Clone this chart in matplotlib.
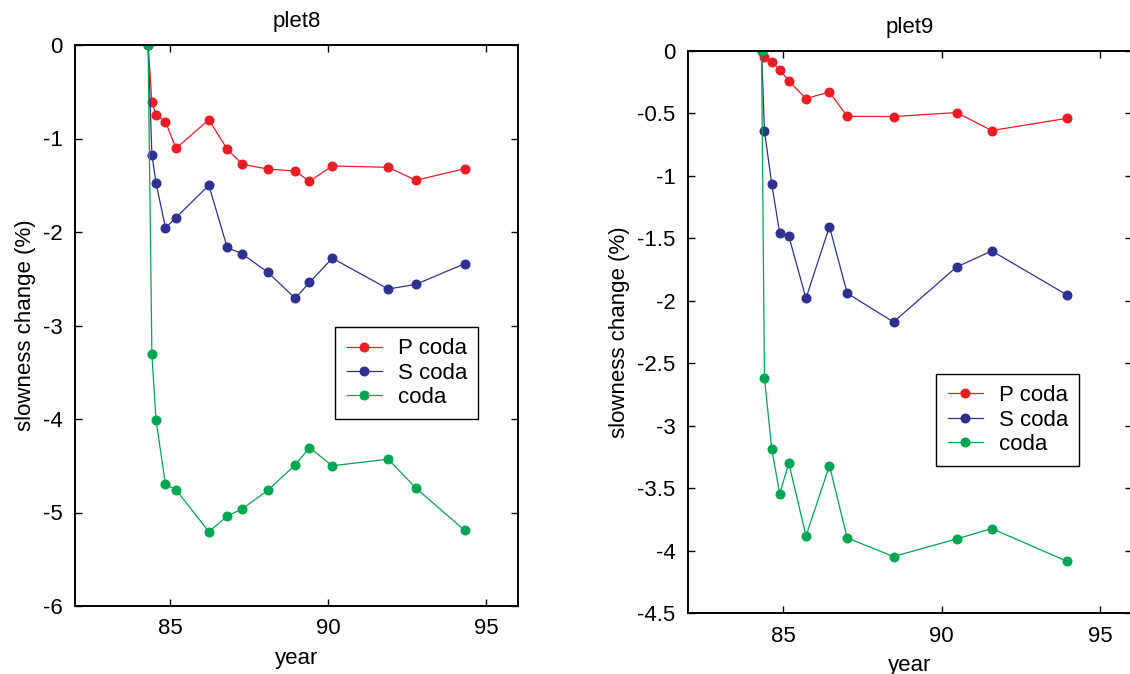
import numpy as np
import matplotlib
matplotlib.use("Agg")
import matplotlib.pyplot as plt

plt.rcParams['font.family'] = ['Liberation Sans', 'DejaVu Sans']

# plet8
years8 = [84.31, 84.43, 84.56, 84.86, 85.19, 86.23, 86.81, 87.29, 88.09, 88.96, 89.41, 90.13, 91.90, 92.77, 94.31]
pcoda8 = [0, -0.61, -0.745, -0.82, -1.105, -0.80, -1.115, -1.276, -1.326, -1.348, -1.458, -1.294, -1.308, -1.447, -1.323]
scoda8 = [0, -1.173, -1.476, -1.955, -1.847, -1.50, -2.165, -2.235, -2.43, -2.71, -2.54, -2.28, -2.61, -2.56, -2.34]
coda8 = [0, -3.31, -4.01, -4.70, -4.756, -5.205, -5.04, -4.96, -4.763, -4.49, -4.307, -4.50, -4.43, -4.738, -5.19]

# plet9
years9 = [84.32, 84.41, 84.64, 84.89, 85.18, 85.72, 86.46, 87.02, 88.48, 90.47, 91.58, 93.95]
pcoda9 = [0, -0.048, -0.088, -0.149, -0.24, -0.381, -0.328, -0.523, -0.525, -0.493, -0.637, -0.539]
scoda9 = [0, -0.637, -1.065, -1.454, -1.484, -1.98, -1.406, -1.94, -2.17, -1.729, -1.601, -1.953]
coda9 = [0, -2.618, -3.184, -3.544, -3.301, -3.883, -3.32, -3.899, -4.048, -3.907, -3.824, -4.086]

labels = ["P coda", "S coda", "coda"]
colors = ["#ec1c24", "#2e3192", "#00a651"]

FS = 16
W, H = 1130, 674
fig = plt.figure(figsize=(W / 100, H / 100), dpi=100)
ax1 = fig.add_axes([75 / W, (H - 606) / H, 443 / W, 561 / H])
ax2 = fig.add_axes([688 / W, (H - 613) / H, 444 / W, 562 / H])


def panel(ax, x, series, title, ylim, yticks, ytl, legpos):
    for y, lab, c in zip(series, labels, colors):
        ax.plot(x, y, color=c, lw=0.9, marker="o", ms=6.2, mec=c, label=lab)
    ax.set_xlim(82, 96)
    ax.set_ylim(*ylim)
    ax.set_xticks([85, 90, 95])
    ax.set_yticks(yticks)
    ax.set_yticklabels(ytl)
    ax.tick_params(direction="in", top=True, right=True, length=5, width=1,
                   labelsize=FS, pad=9)
    for s in ax.spines.values():
        s.set_linewidth(1.4)
    ax.set_title(title, fontsize=FS, pad=13)
    ax.set_xlabel("year", fontsize=FS, labelpad=6)
    ax.set_ylabel("slowness change (%)", fontsize=FS, labelpad=5)
    leg = ax.legend(loc="upper right", bbox_to_anchor=legpos, borderaxespad=0,
                    fancybox=False, edgecolor="black", fontsize=FS,
                    handlelength=1.6, handletextpad=0.7, labelspacing=0.15,
                    borderpad=0.5, framealpha=1)
    leg.get_frame().set_linewidth(1.0)


panel(ax1, years8, [pcoda8, scoda8, coda8], "plet8", (-6, 0),
      np.arange(-6, 1, 1), ["-6", "-5", "-4", "-3", "-2", "-1", "0"], (0.91, 0.497))
panel(ax2, years9, [pcoda9, scoda9, coda9], "plet9", (-4.5, 0),
      np.arange(-4.5, 0.01, 0.5),
      ["-4.5", "-4", "-3.5", "-3", "-2.5", "-2", "-1.5", "-1", "-0.5", "0"], (0.881, 0.425))

fig.savefig("out.png", dpi=100)
